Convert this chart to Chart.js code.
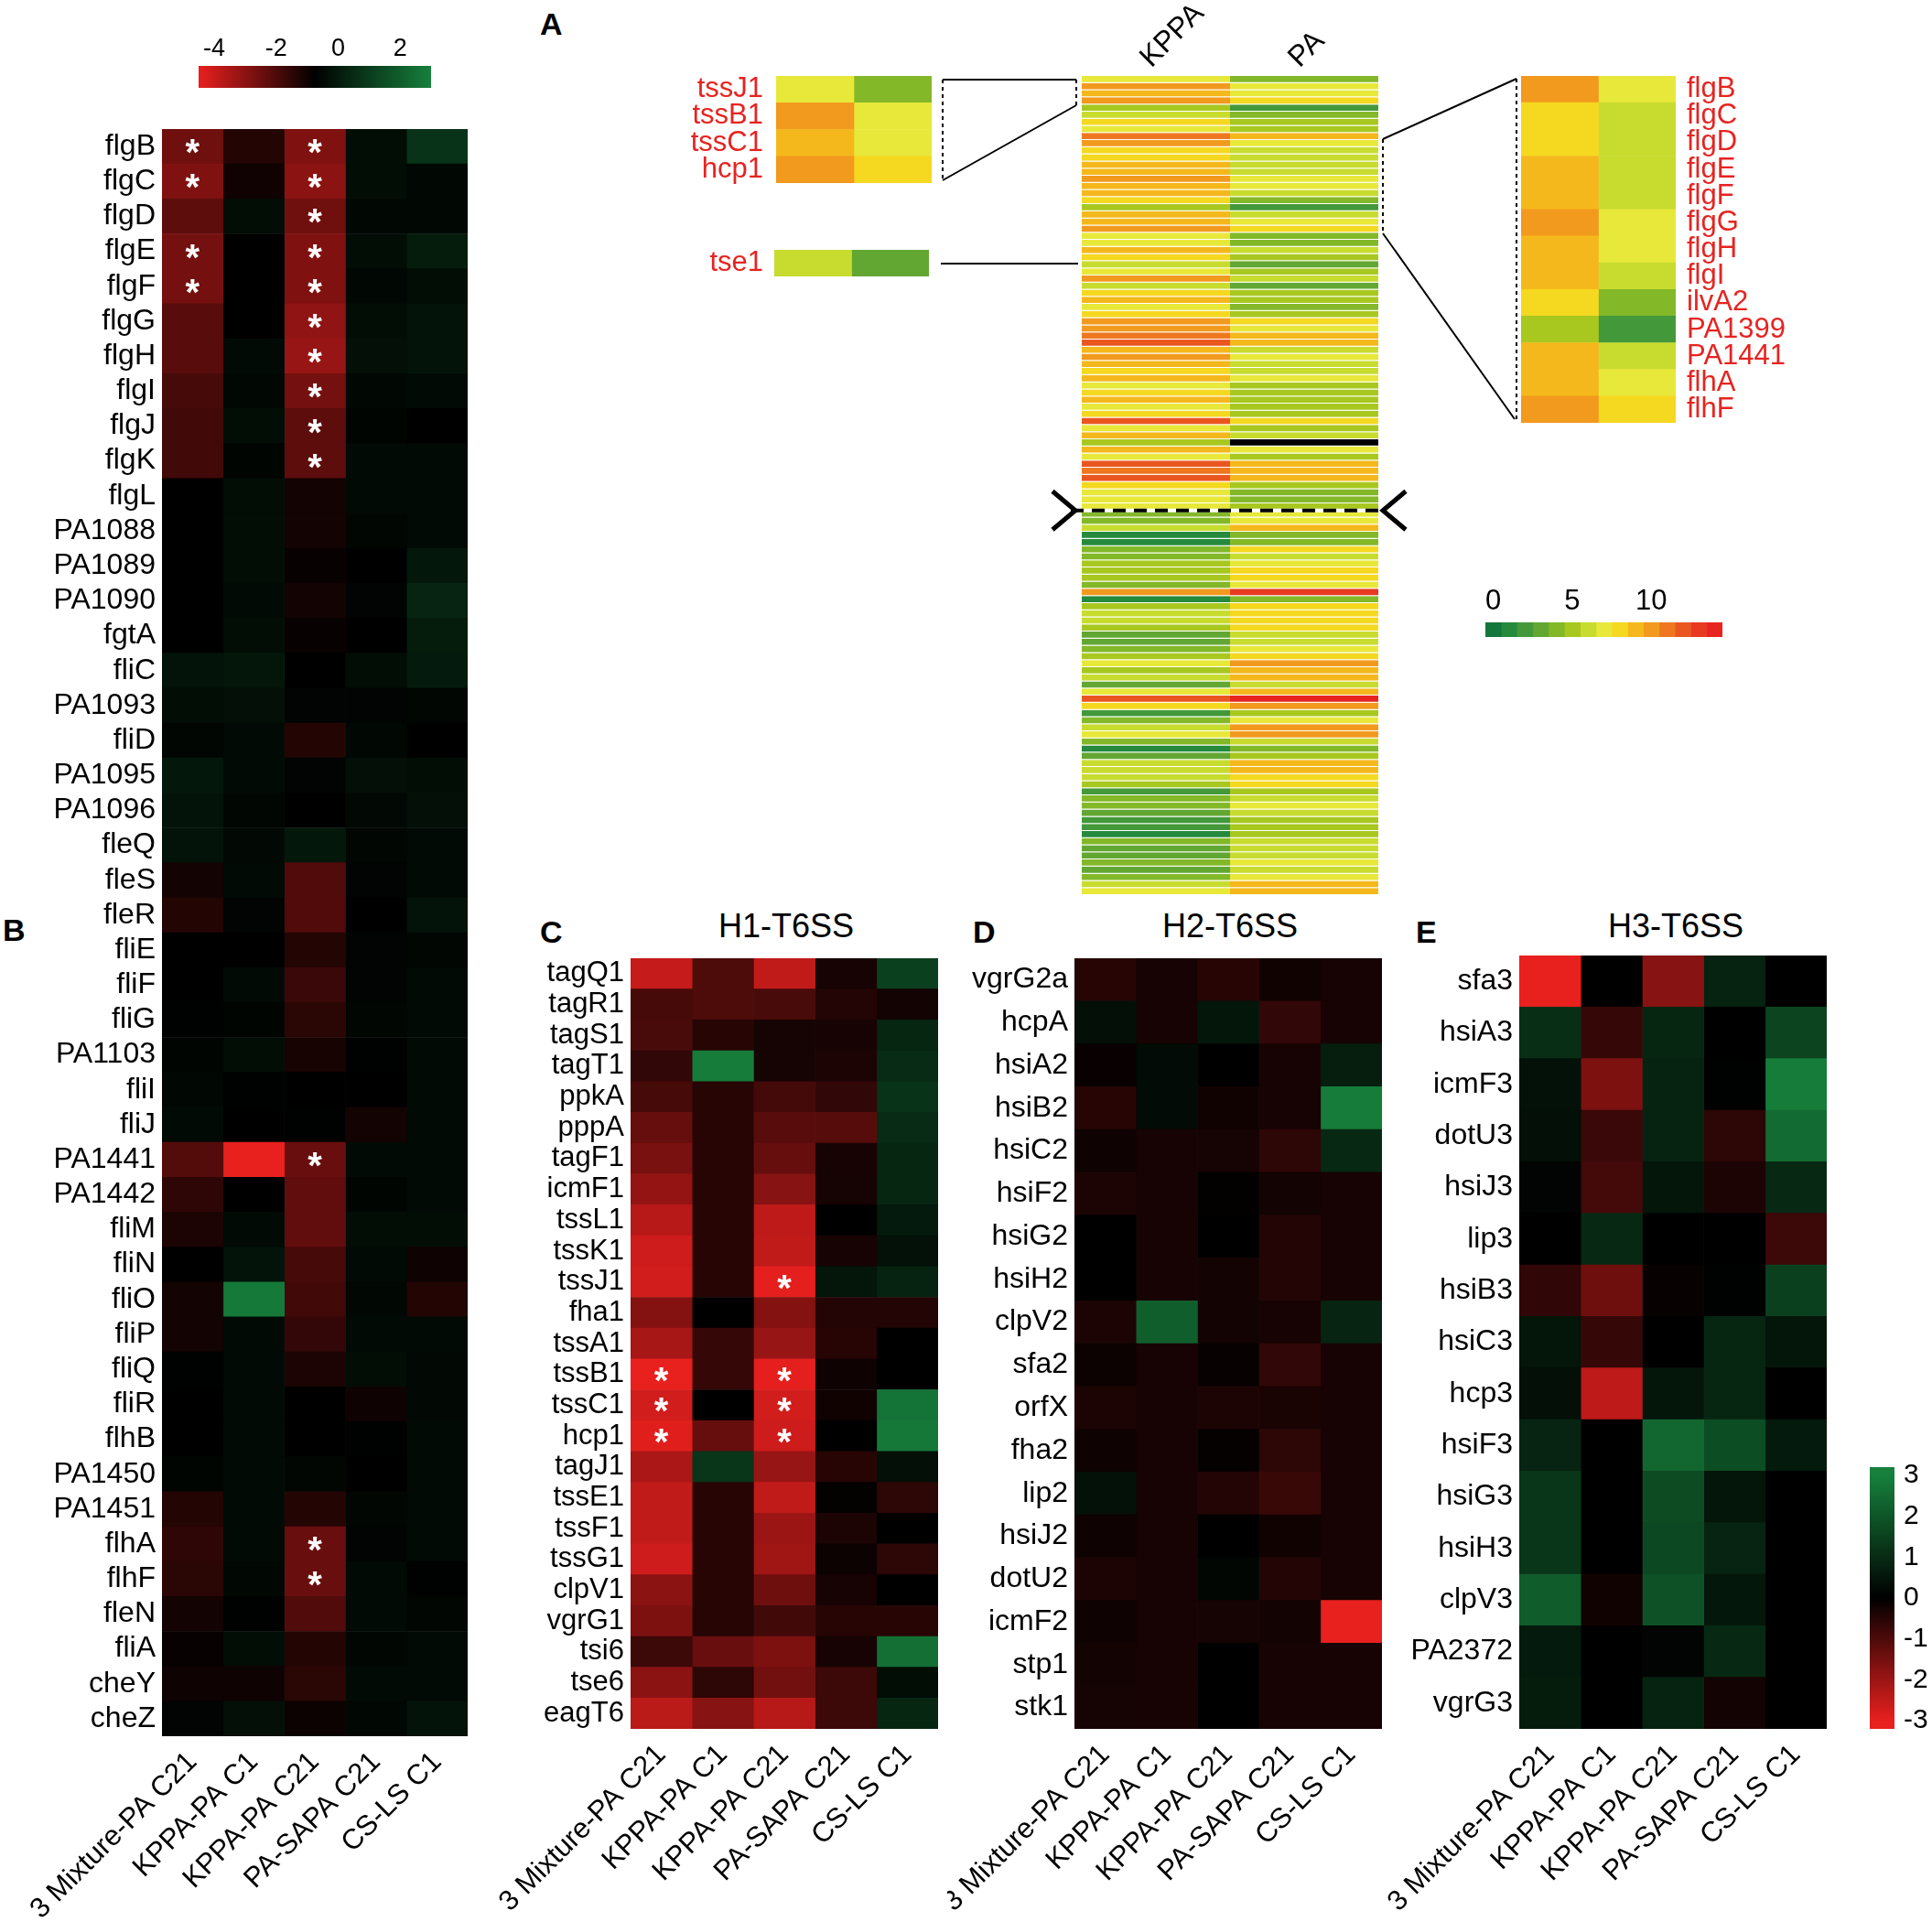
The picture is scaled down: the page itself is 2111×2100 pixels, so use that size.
<!DOCTYPE html>
<html>
<head>
<meta charset="utf-8">
<script src="https://cdn.jsdelivr.net/npm/chart.js@4.4.1/dist/chart.umd.min.js"></script>
<style>
  body { margin: 0; background: #fff; width: 2111px; height: 2100px; position: relative; overflow: hidden;
         font-family: "Liberation Sans", Arial, sans-serif; }
  .box { position: absolute; }
  .letter { position: absolute; font-weight: bold; font-size: 34px; line-height: 34px; }
  .title { position: absolute; font-size: 36px; line-height: 36px; transform: translateX(-50%); white-space: nowrap; }
</style>
</head>
<body>
<div class="letter" style="left:590px;top:9px">A</div>
<div class="letter" style="left:3px;top:999px">B</div>
<div class="letter" style="left:590px;top:1001px">C</div>
<div class="letter" style="left:1063px;top:1001px">D</div>
<div class="letter" style="left:1547px;top:1001px">E</div>
<div class="title" style="left:859px;top:994px">H1-T6SS</div>
<div class="title" style="left:1344px;top:994px">H2-T6SS</div>
<div class="title" style="left:1831px;top:994px">H3-T6SS</div>

<script>
// ---- data ----
var cols = ['3 Mixture-PA C21', 'KPPA-PA C1', 'KPPA-PA C21', 'PA-SAPA C21', 'CS-LS C1'];

// panel B, flagellar genes (log2 fold change)
var bGenes = ['flgB','flgC','flgD','flgE','flgF','flgG','flgH','flgI','flgJ','flgK','flgL','PA1088','PA1089','PA1090','fgtA',
  'fliC','PA1093','fliD','PA1095','PA1096','fleQ','fleS','fleR','fliE','fliF','fliG','PA1103','fliI','fliJ','PA1441','PA1442',
  'fliM','fliN','fliO','fliP','fliQ','fliR','flhB','PA1450','PA1451','flhA','flhF','fleN','fliA','cheY','cheZ'];
var bValues = [
  [-2.55,-1.31,-2.81,-0.38,0.75], [-2.81,-1.01,-3.0,-0.38,-0.53], [-2.25,-0.38,-2.55,-0.53,-0.53],
  [-2.63,-0.75,-2.81,-0.38,0.08], [-2.63,-0.75,-2.81,-0.53,-0.38], [-2.18,-0.75,-3.08,-0.38,-0.19],
  [-2.18,-0.45,-3.19,-0.3,-0.19], [-1.88,-0.53,-2.63,-0.53,-0.45], [-1.8,-0.38,-2.25,-0.6,-0.75],
  [-1.8,-0.6,-2.25,-0.45,-0.45], [-0.75,-0.38,-1.05,-0.45,-0.45], [-0.75,-0.38,-1.05,-0.56,-0.45],
  [-0.75,-0.38,-0.86,-0.75,-0.08], [-0.75,-0.45,-1.05,-0.64,0.3], [-0.75,-0.38,-0.86,-0.75,0.08],
  [-0.19,-0.11,-0.75,-0.38,0.0], [-0.38,-0.3,-0.64,-0.64,-0.56], [-0.56,-0.45,-1.31,-0.53,-0.75],
  [-0.08,-0.45,-0.64,-0.3,-0.38], [-0.19,-0.56,-0.75,-0.49,-0.3], [-0.19,-0.49,-0.08,-0.56,-0.45],
  [-1.05,-0.45,-2.06,-0.64,-0.45], [-1.31,-0.64,-2.06,-0.75,-0.19], [-0.75,-0.75,-1.31,-0.64,-0.56],
  [-0.75,-0.45,-1.69,-0.64,-0.45], [-0.68,-0.6,-1.43,-0.56,-0.45], [-0.6,-0.38,-1.13,-0.68,-0.45],
  [-0.53,-0.68,-0.75,-0.75,-0.45], [-0.45,-0.75,-0.68,-1.05,-0.45], [-2.1,-4.5,-2.44,-0.45,-0.45],
  [-1.5,-0.75,-2.33,-0.6,-0.45], [-1.2,-0.45,-2.33,-0.38,-0.38], [-0.75,-0.19,-1.88,-0.45,-0.98],
  [-1.05,2.81,-1.8,-0.53,-1.31], [-1.05,-0.45,-1.58,-0.45,-0.45], [-0.68,-0.45,-1.2,-0.38,-0.49],
  [-0.75,-0.45,-0.75,-0.98,-0.49], [-0.75,-0.45,-0.75,-0.68,-0.45], [-0.6,-0.45,-0.56,-0.75,-0.45],
  [-1.31,-0.45,-1.31,-0.56,-0.45], [-1.5,-0.45,-2.44,-0.64,-0.45], [-1.43,-0.53,-2.44,-0.45,-0.68],
  [-1.05,-0.68,-2.06,-0.45,-0.56], [-0.86,-0.38,-1.31,-0.56,-0.45], [-0.98,-0.98,-1.43,-0.45,-0.45],
  [-0.64,-0.3,-0.94,-0.53,-0.19]
];
var bStars = [['flgB','flgC','flgE','flgF'], [],
  ['flgB','flgC','flgD','flgE','flgF','flgG','flgH','flgI','flgJ','flgK','PA1441','flhA','flhF'], [], []];
var bRange = [-4.5, 3];
var bLegendTicks = [-4, -2, 0, 2];

// panel C, H1-T6SS
var cGenes = ['tagQ1','tagR1','tagS1','tagT1','ppkA','pppA','tagF1','icmF1','tssL1','tssK1','tssJ1','fha1','tssA1',
  'tssB1','tssC1','hcp1','tagJ1','tssE1','tssF1','tssG1','clpV1','vgrG1','tsi6','tse6','eagT6'];
var cValues = [
  [-2.55,-1.0,-2.5,-0.3,1.5], [-0.9,-1.0,-0.95,-0.45,-0.25], [-0.95,-0.5,-0.28,-0.3,0.9], [-0.65,2.9,-0.28,-0.38,1.0],
  [-0.9,-0.5,-0.88,-0.65,1.2], [-1.3,-0.5,-1.15,-1.1,1.0], [-1.55,-0.5,-1.3,-0.3,0.9], [-1.9,-0.5,-1.75,-0.28,0.9],
  [-2.35,-0.5,-2.45,0,0.6], [-2.65,-0.5,-2.5,-0.3,0.4], [-2.7,-0.5,-2.95,0.5,0.8], [-1.7,0,-1.7,-0.45,-0.45],
  [-2.15,-0.7,-1.95,-0.5,0], [-3.0,-0.7,-2.95,-0.18,0], [-2.7,0,-2.7,-0.22,2.7], [-2.9,-1.3,-2.65,0,2.8],
  [-2.2,1.25,-1.95,-0.5,0.35], [-2.5,-0.5,-2.5,-0.05,-0.58], [-2.5,-0.5,-2.0,-0.38,0], [-2.65,-0.5,-2.05,-0.15,-0.58],
  [-1.8,-0.5,-1.42,-0.3,0], [-1.6,-0.5,-0.85,-0.5,-0.5], [-0.78,-1.35,-1.6,-0.3,2.6], [-1.8,-0.58,-1.48,-0.78,0.3],
  [-2.4,-1.75,-2.35,-0.78,0.9]
];
var cStars = [['tssB1','tssC1','hcp1'], [], ['tssJ1','tssB1','tssC1','hcp1'], [], []];

// panel D, H2-T6SS
var dGenes = ['vgrG2a','hcpA','hsiA2','hsiB2','hsiC2','hsiF2','hsiG2','hsiH2','clpV2','sfa2','orfX','fha2','lip2',
  'hsiJ2','dotU2','icmF2','stp1','stk1'];
var dValues = [
  [-0.5,-0.3,-0.5,-0.22,-0.3], [0.35,-0.3,0.5,-0.65,-0.3], [-0.12,0.25,0,-0.3,0.7], [-0.5,0.25,-0.22,-0.3,2.9],
  [-0.18,-0.3,-0.28,-0.58,0.95], [-0.38,-0.3,-0.04,-0.25,-0.3], [0,-0.3,0,-0.45,-0.3], [0,-0.3,-0.25,-0.45,-0.3],
  [-0.38,2.2,-0.25,-0.3,0.85], [-0.15,-0.3,-0.1,-0.65,-0.3], [-0.35,-0.3,-0.38,-0.32,-0.3], [-0.18,-0.3,-0.08,-0.58,-0.3],
  [0.4,-0.3,-0.45,-0.72,-0.3], [-0.18,-0.3,0,-0.22,-0.3], [-0.38,-0.3,0.15,-0.45,-0.3], [-0.18,-0.3,-0.28,-0.25,-3.0],
  [-0.25,-0.3,0,-0.3,-0.3], [-0.28,-0.3,0,-0.3,-0.3]
];

// panel E, H3-T6SS
var eGenes = ['sfa3','hsiA3','icmF3','dotU3','hsiJ3','lip3','hsiB3','hsiC3','hcp3','hsiF3','hsiG3','hsiH3','clpV3','PA2372','vgrG3'];
var eValues = [
  [-3.0,0,-1.75,0.8,0], [1.1,-0.7,0.9,0,1.6], [0.4,-1.6,0.8,0.05,2.9], [0.35,-0.75,0.8,-0.58,2.5],
  [0.1,-0.88,0.5,-0.38,0.95], [0,0.95,0,0,-0.78], [-0.62,-1.42,-0.1,0.05,1.5], [0.5,-0.7,0,0.9,0.5],
  [0.35,-2.45,0.5,0.9,0], [0.85,0,2.4,1.8,0.6], [1.25,0,1.75,0.5,0], [1.25,0,1.7,0.85,0],
  [2.15,-0.22,1.9,0.55,0], [0.6,0,0.1,0.95,0], [0.65,0,0.8,-0.25,0]
];
var cdeRange = [-3, 3];
var cdeLegendRange = [-3.2, 3.2];
var cdeLegendTicks = [-3, -2, -1, 0, 1, 2, 3];

// panel A, expression level of the two strains (null = not detected)
var aCols = ['KPPA', 'PA'];
var aKPPA = [7,10,9,10,5,6,8,7,11,10, 8,8,9,9,10,9,9,8,5,9, 9,10,7,7,9,8,6,7,10,6,
  8,9,7,8,10,10,11,12,9,10, 9,8,9,7,8,9,7,8,12,7, 9,5,9,7,12,11,12,8,7,7,
  7,4,4,6,1,1,4,4,5,5, 5,4,10,1,5,6,6,5,3,3, 4,5,7,5,6,3,7,12,8,2,
  4,6,7,4,1,3,6,6,6,5, 2,4,4,3,2,2,1,4,3,3, 4,3,4,6,7];
var aPA = [4,7,7,8,2,4,5,5,9,7, 6,6,6,6,7,7,6,4,2,6, 7,8,4,4,6,5,3,5,6,3,
  5,5,4,5,8,7,9,9,6,7, 6,6,7,5,5,5,5,5,8,5, 6,null,7,5,9,9,9,5,4,4,
  5,7,7,9,4,4,8,6,7,8, 8,7,13,4,8,8,8,8,6,6, 7,8,10,9,9,6,9,14,10,5,
  7,10,10,6,4,5,9,9,8,8, 5,6,7,6,5,5,5,6,6,6, 7,6,7,9,9];
var aCutAfter = 60;   // dashed separator after this row index
var insetLeftGenes = ['tssJ1','tssB1','tssC1','hcp1'];
var insetLeftRows = [0, 1, 2, 3];
var insetTseGenes = ['tse1'];
var insetTseRows = [26];
var insetRightGenes = ['flgB','flgC','flgD','flgE','flgF','flgG','flgH','flgI','ilvA2','PA1399','PA1441','flhA','flhF'];
var insetRightRows = [9,10,11,12,13,14,15,16,17,18,19,20,21];
var aPalette = ['#13773c','#268a3c','#43993a','#63a733','#83b828','#a8c820','#c8dc30','#e8e83a',
  '#f5d820','#f5b81c','#f29a1e','#ee7720','#ea5620','#e83a20','#e82420'];
var aLegendLevels = [0,1,2,3,4,5,6,7,8,9,10,11,12,13,14];
var aLegendTicks = [0, 5, 10];

// ---- colours ----
var RED = [232, 32, 30], GREEN = [22, 128, 60];
function rgb(c) { return 'rgb(' + c.join(',') + ')'; }
function divergent(min, max) {
  var mid = (min + max) / 2;
  return function (v) {
    var t, c;
    if (v <= mid) { t = Math.min(1, (mid - v) / (mid - min)); c = RED; }
    else { t = Math.min(1, (v - mid) / (max - mid)); c = GREEN; }
    return rgb(c.map(function (x) { return Math.round(x * t); }));
  };
}
function seqColor(v) {
  if (v === null || v === undefined) return '#000';
  return aPalette[Math.max(0, Math.min(aPalette.length - 1, Math.round(v)))];
}
var bColor = divergent(bRange[0], bRange[1]);
var cdeColor = divergent(cdeRange[0], cdeRange[1]);

Chart.defaults.font.family = '"Liberation Sans", Arial, sans-serif';
Chart.defaults.color = '#000';

var starPlugin = {
  id: 'stars',
  afterDatasetsDraw: function (chart, args, opts) {
    if (!opts.list) return;
    var ctx = chart.ctx;
    ctx.save();
    ctx.fillStyle = '#fff';
    ctx.font = 'bold 40px "Liberation Sans", Arial';
    ctx.textAlign = 'center';
    ctx.textBaseline = 'middle';
    opts.list.forEach(function (genes, j) {
      genes.forEach(function (g) {
        var bar = chart.getDatasetMeta(j).data[chart.data.labels.indexOf(g)];
        ctx.fillText('*', (bar.x + bar.base) / 2, bar.y + 9);
      });
    });
    ctx.restore();
  }
};

var cutPlugin = {
  id: 'cut',
  afterDraw: function (chart, args, opts) {
    if (opts.after === undefined) return;
    var y = chart.scales.y, a = chart.chartArea, ctx = chart.ctx;
    var yy = (y.getPixelForValue(opts.after) + y.getPixelForValue(opts.after + 1)) / 2;
    ctx.save();
    ctx.lineWidth = 4;
    ctx.beginPath(); ctx.moveTo(a.left - 12, yy); ctx.lineTo(a.right + 4, yy);
    ctx.strokeStyle = '#fff'; ctx.stroke();
    ctx.setLineDash([14, 9]); ctx.strokeStyle = '#000'; ctx.stroke();
    ctx.setLineDash([]);
    ctx.lineWidth = 5;
    ctx.beginPath(); ctx.moveTo(a.left - 32, yy - 21); ctx.lineTo(a.left - 7, yy); ctx.lineTo(a.left - 32, yy + 21); ctx.stroke();
    ctx.beginPath(); ctx.moveTo(a.right + 30, yy - 21); ctx.lineTo(a.right + 5, yy); ctx.lineTo(a.right + 30, yy + 21); ctx.stroke();
    ctx.restore();
  }
};

function makeBox(left, top, w, h) {
  var box = document.createElement('div');
  box.className = 'box';
  box.style.left = left + 'px'; box.style.top = top + 'px';
  box.style.width = w + 'px'; box.style.height = h + 'px';
  var cv = document.createElement('canvas');
  cv.width = w; cv.height = h;
  cv.style.width = w + 'px'; cv.style.height = h + 'px';
  box.appendChild(cv);
  document.body.appendChild(box);
  return cv;
}

// o.area = [left, top, right, bottom] of the cells
function heatmap(o) {
  var W = o.area[2] - o.area[0] + o.padL + o.padR;
  var H = o.area[3] - o.area[1] + o.padT + o.padB;
  var cv = makeBox(o.area[0] - o.padL, o.area[1] - o.padT, W, H);
  var yPos = o.yPos || 'left', xPos = o.xPos || 'bottom';
  var showY = o.showY !== false, showX = o.showX !== false;
  return new Chart(cv, {
    type: 'bar',
    data: {
      labels: o.rows,
      datasets: o.cols.map(function (c, j) {
        return {
          label: c,
          data: o.rows.map(function () { return 1; }),
          backgroundColor: o.rows.map(function (r, i) { return o.color(o.values[i][j]); }),
          borderWidth: o.sep ? { top: 0, left: 0, right: 0, bottom: 1 } : 0,
          borderColor: 'rgba(255,255,255,0.28)',
          borderSkipped: false,
          inflateAmount: o.sep ? 0 : 'auto',
          barPercentage: 1,
          categoryPercentage: 1
        };
      })
    },
    options: {
      responsive: false,
      animation: false,
      indexAxis: 'y',
      layout: { padding: {
        left: showY && yPos === 'left' ? 0 : o.padL,
        right: showY && yPos === 'right' ? 0 : o.padR,
        top: showX && xPos === 'top' ? 0 : o.padT,
        bottom: showX && xPos === 'bottom' ? 0 : o.padB
      } },
      plugins: {
        legend: { display: false },
        tooltip: { enabled: false },
        stars: { list: o.stars || null },
        cut: { after: o.cutAfter }
      },
      scales: {
        x: {
          type: 'linear', stacked: true, min: 0, max: o.cols.length, position: xPos, display: showX,
          grid: { display: false, drawTicks: false }, border: { display: false },
          afterBuildTicks: function (s) { s.ticks = o.cols.map(function (c, j) { return { value: j + 0.5 }; }); },
          afterFit: function (s) {
            if (!showX) return;
            s.height = xPos === 'top' ? o.padT : o.padB;
            s.paddingLeft = 0; s.paddingRight = 0; s.paddingTop = 0; s.paddingBottom = 0;
          },
          ticks: {
            autoSkip: false, minRotation: o.rot || 0, maxRotation: o.rot || 0,
            padding: o.xPad || 0, labelOffset: o.xShift || 0, font: { size: o.xFont || 31 },
            callback: function (v, i) { return o.cols[i]; }
          }
        },
        y: {
          type: 'category', stacked: true, position: yPos, display: showY,
          grid: { display: false, drawTicks: false }, border: { display: false },
          afterFit: function (s) {
            if (!showY) return;
            s.width = yPos === 'left' ? o.padL : o.padR;
            s.paddingTop = 0; s.paddingBottom = 0; s.paddingLeft = 0; s.paddingRight = 0;
          },
          ticks: { autoSkip: false, padding: o.yPad || 7, font: { size: o.yFont || 32 }, color: o.yColor || '#000' }
        }
      }
    },
    plugins: [starPlugin, cutPlugin]
  });
}

function rowsOf(list) { return list.map(function (i) { return [aKPPA[i], aPA[i]]; }); }

// ---- panel B ----
heatmap({ rows: bGenes, cols: cols, values: bValues, color: bColor, stars: bStars,
  area: [177, 141, 511, 1897], padL: 177, padR: 10, padT: 10, padB: 203, rot: 45, xPad: 10 });

// ---- panels C, D, E ----
heatmap({ rows: cGenes, cols: cols, values: cValues, color: cdeColor, stars: cStars,
  area: [689, 1047, 1025, 1889], padL: 159, padR: 10, padT: 10, padB: 211, rot: 45, xPad: 10, yFont: 31 });
heatmap({ rows: dGenes, cols: cols, values: dValues, color: cdeColor,
  area: [1174, 1047, 1510, 1889], padL: 139, padR: 10, padT: 10, padB: 211, rot: 45, xPad: 10 });
heatmap({ rows: eGenes, cols: cols, values: eValues, color: cdeColor,
  area: [1660, 1044, 1996, 1889], padL: 150, padR: 10, padT: 10, padB: 211, rot: 45, xPad: 10 });

// ---- panel A ----
heatmap({ rows: aKPPA.map(function (v, i) { return 'g' + (i + 1); }), cols: aCols,
  values: rowsOf(aKPPA.map(function (v, i) { return i; })), color: seqColor, sep: true, cutAfter: aCutAfter,
  area: [1182, 83, 1506, 978], padL: 45, padR: 45, padT: 83, padB: 10, showY: false,
  xPos: 'top', rot: 45, xPad: 1, xShift: 16, xFont: 32 });
heatmap({ rows: insetLeftGenes, cols: aCols, values: rowsOf(insetLeftRows), color: seqColor,
  area: [848, 83, 1018, 200], padL: 148, padR: 5, padT: 5, padB: 5, showX: false,
  yPad: 14, yFont: 31, yColor: '#e52421' });
heatmap({ rows: insetTseGenes, cols: aCols, values: rowsOf(insetTseRows), color: seqColor,
  area: [846, 273, 1015, 302], padL: 146, padR: 5, padT: 5, padB: 5, showX: false,
  yPad: 12, yFont: 31, yColor: '#e52421' });
heatmap({ rows: insetRightGenes, cols: aCols, values: rowsOf(insetRightRows), color: seqColor,
  area: [1662, 83, 1831, 462], padL: 5, padR: 270, padT: 5, padB: 5, showX: false, yPos: 'right',
  yPad: 12, yFont: 31, yColor: '#e52421' });

// ---- colour keys ----
function gradientFill(horizontal, range, full) {
  return function (c) {
    var ch = c.chart, a = ch.chartArea;
    if (!a) return '#000';
    var g = horizontal ? ch.ctx.createLinearGradient(a.left, 0, a.right, 0)
                       : ch.ctx.createLinearGradient(0, a.bottom, 0, a.top);
    var span = range[1] - range[0];
    g.addColorStop(Math.max(0, (full[0] - range[0]) / span), rgb(RED));
    g.addColorStop(((full[0] + full[1]) / 2 - range[0]) / span, '#000');
    g.addColorStop(Math.min(1, (full[1] - range[0]) / span), rgb(GREEN));
    return g;
  };
}

// B key, horizontal gradient with ticks on top
new Chart(makeBox(190, 0, 310, 110), {
  type: 'bar',
  data: { labels: [''], datasets: [{ data: [[bRange[0], bRange[1]]], backgroundColor: gradientFill(true, bRange, bRange),
    borderWidth: 0, barPercentage: 1, categoryPercentage: 1 }] },
  options: {
    responsive: false, animation: false, indexAxis: 'y',
    layout: { padding: { left: 27, right: 29, top: 0, bottom: 14 } },
    plugins: { legend: { display: false }, tooltip: { enabled: false } },
    scales: {
      x: { type: 'linear', min: bRange[0], max: bRange[1], position: 'top',
        grid: { display: false, drawTicks: false }, border: { display: false },
        afterBuildTicks: function (s) { s.ticks = bLegendTicks.map(function (v) { return { value: v }; }); },
        afterFit: function (s) { s.height = 72; s.paddingLeft = 0; s.paddingRight = 0; },
        ticks: { font: { size: 27 }, padding: 2 } },
      y: { display: false }
    }
  }
});

// A key, discrete blocks
new Chart(makeBox(1600, 600, 300, 110), {
  type: 'bar',
  data: { labels: [''], datasets: aLegendLevels.map(function (v) {
    return { data: [[v - 0.5, v + 0.5]], backgroundColor: seqColor(v), borderWidth: 0, grouped: false,
      barPercentage: 1, categoryPercentage: 1 };
  }) },
  options: {
    responsive: false, animation: false, indexAxis: 'y',
    layout: { padding: { left: 23, right: 18, top: 0, bottom: 14 } },
    plugins: { legend: { display: false }, tooltip: { enabled: false } },
    scales: {
      x: { type: 'linear', min: -0.5, max: aLegendLevels.length - 0.5, position: 'top',
        grid: { display: false, drawTicks: false }, border: { display: false },
        afterBuildTicks: function (s) { s.ticks = aLegendTicks.map(function (v) { return { value: v }; }); },
        afterFit: function (s) { s.height = 80; s.paddingLeft = 0; s.paddingRight = 0; },
        ticks: { font: { size: 31 }, padding: 4 } },
      y: { display: false }
    }
  }
});

// C-E key, vertical gradient with ticks on the right
new Chart(makeBox(2030, 1590, 81, 310), {
  type: 'bar',
  data: { labels: [''], datasets: [{ data: [[cdeLegendRange[0], cdeLegendRange[1]]],
    backgroundColor: gradientFill(false, cdeLegendRange, cdeRange),
    borderWidth: 0, barPercentage: 1, categoryPercentage: 1 }] },
  options: {
    responsive: false, animation: false,
    layout: { padding: { left: 13, right: 0, top: 13, bottom: 11 } },
    plugins: { legend: { display: false }, tooltip: { enabled: false } },
    scales: {
      x: { display: false },
      y: { type: 'linear', min: cdeLegendRange[0], max: cdeLegendRange[1], position: 'right',
        grid: { display: false, drawTicks: false }, border: { display: false },
        afterBuildTicks: function (s) { s.ticks = cdeLegendTicks.map(function (v) { return { value: v }; }); },
        afterFit: function (s) { s.width = 41; s.paddingTop = 0; s.paddingBottom = 0; },
        ticks: { font: { size: 30 }, padding: 10 } }
    }
  }
});
</script>
<svg width="2111" height="2100" style="position:absolute;left:0;top:0;z-index:5;pointer-events:none">
  <g stroke="#000" stroke-width="2" fill="none">
    <path d="M1030 87H1176M1176 115L1030 197M1028 288H1178M1511 152L1657 86M1511 255L1655 458"/>
    <path stroke-dasharray="4 4" d="M1030 87V197M1176 87V115M1657 86V460M1511 152V255"/>
  </g>
</svg>
</body>
</html>
